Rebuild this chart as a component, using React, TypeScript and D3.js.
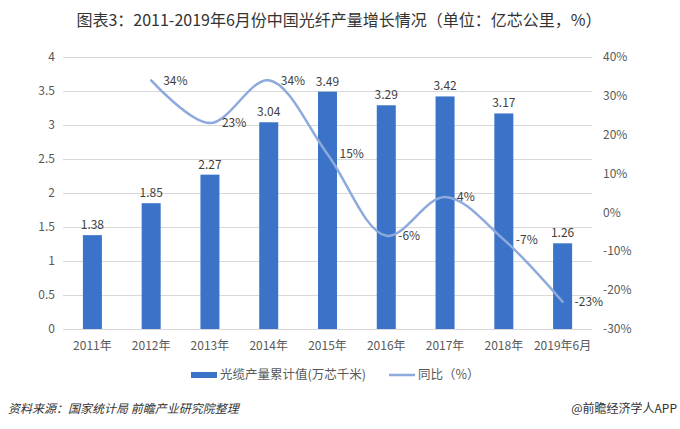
import { useRef, useEffect } from "react";
import * as d3 from "d3";

// data
const years = ["2011年", "2012年", "2013年", "2014年", "2015年", "2016年", "2017年", "2018年", "2019年6月"];
const output = [1.38, 1.85, 2.27, 3.04, 3.49, 3.29, 3.42, 3.17, 1.26];
const growth: (number | null)[] = [null, 34, 23, 34, 15, -6, 4, -7, -23];
const leftTicks = [0, 0.5, 1, 1.5, 2, 2.5, 3, 3.5, 4];
const rightTicks = [-30, -20, -10, 0, 10, 20, 30, 40];

const W = 680;
const H = 429;
const font = "'Noto Sans CJK SC', 'Noto Sans', sans-serif";

function draw(el: SVGSVGElement) {
  const svg = d3.select(el);
  svg.selectAll("*").remove();

  const left = 63;
  const right = 592;
  const top = 57;
  const bottom = 329;

  const x = d3.scaleBand().domain(years).range([left, right]);
  const y = d3.scaleLinear().domain([0, 4]).range([bottom, top]);
  const y2 = d3.scaleLinear().domain([-30, 40]).range([bottom, top]);

  svg.append("rect").attr("width", W).attr("height", H).attr("fill", "#fff");

  // title
  svg
    .append("text")
    .attr("x", 339)
    .attr("y", 26)
    .attr("text-anchor", "middle")
    .attr("font-size", 16)
    .attr("fill", "#333")
    .text("图表3：2011-2019年6月份中国光纤产量增长情况（单位：亿芯公里，%）");

  // grid
  svg
    .append("g")
    .selectAll("line")
    .data(leftTicks)
    .join("line")
    .attr("x1", left)
    .attr("x2", right)
    .attr("y1", (d) => Math.round(y(d)) + 0.5)
    .attr("y2", (d) => Math.round(y(d)) + 0.5)
    .attr("stroke", "#d9d9d9")
    .attr("stroke-width", 1);

  // left axis labels
  svg
    .append("g")
    .selectAll("text")
    .data(leftTicks)
    .join("text")
    .attr("x", 55)
    .attr("y", (d) => y(d))
    .attr("dy", "0.35em")
    .attr("text-anchor", "end")
    .attr("font-size", 12)
    .attr("fill", "#595959")
    .text((d) => String(d));

  // right axis labels
  svg
    .append("g")
    .selectAll("text")
    .data(rightTicks)
    .join("text")
    .attr("x", 603)
    .attr("y", (d) => y2(d))
    .attr("dy", "0.35em")
    .attr("font-size", 12)
    .attr("fill", "#595959")
    .text((d) => d + "%");

  // category labels
  svg
    .append("g")
    .selectAll("text")
    .data(years)
    .join("text")
    .attr("x", (d) => x(d)! + x.bandwidth() / 2)
    .attr("y", 350)
    .attr("text-anchor", "middle")
    .attr("font-size", 12)
    .attr("fill", "#595959")
    .text((d) => d);

  // bars
  const bw = 19;
  svg
    .append("g")
    .selectAll("rect")
    .data(output)
    .join("rect")
    .attr("x", (d, i) => x(years[i])! + x.bandwidth() / 2 - bw / 2)
    .attr("y", (d) => y(d))
    .attr("width", bw)
    .attr("height", (d) => bottom - y(d))
    .attr("fill", "#3a73c8");

  svg
    .append("g")
    .selectAll("text")
    .data(output)
    .join("text")
    .attr("x", (d, i) => x(years[i])! + x.bandwidth() / 2)
    .attr("y", (d) => y(d) - 6)
    .attr("text-anchor", "middle")
    .attr("font-size", 12)
    .attr("fill", "#404040")
    .text((d) => d.toFixed(2));

  // line
  const pts = growth
    .map((g, i) => ({ g, i }))
    .filter((p) => p.g !== null) as { g: number; i: number }[];
  const line = d3
    .line<{ g: number; i: number }>()
    .x((p) => x(years[p.i])! + x.bandwidth() / 2)
    .y((p) => y2(p.g))
    .curve(d3.curveCatmullRom.alpha(0.5));
  svg
    .append("path")
    .datum(pts)
    .attr("d", line)
    .attr("fill", "none")
    .attr("stroke", "#8eaadc")
    .attr("stroke-width", 2.5)
    .attr("stroke-linecap", "round");

  svg
    .append("g")
    .selectAll("text")
    .data(pts)
    .join("text")
    .attr("x", (p) => x(years[p.i])! + x.bandwidth() / 2 + 12)
    .attr("y", (p) => y2(p.g))
    .attr("dy", "0.35em")
    .attr("font-size", 12)
    .attr("fill", "#404040")
    .text((p) => p.g + "%");

  // legend
  const lg = svg.append("g").attr("font-size", 12.5).attr("fill", "#595959");
  lg.append("rect").attr("x", 191).attr("y", 372).attr("width", 26).attr("height", 6).attr("fill", "#3a73c8");
  lg.append("text").attr("x", 220).attr("y", 375).attr("dy", "0.35em").text("光缆产量累计值(万芯千米)");
  lg.append("line")
    .attr("x1", 389)
    .attr("x2", 415)
    .attr("y1", 375)
    .attr("y2", 375)
    .attr("stroke", "#8eaadc")
    .attr("stroke-width", 2.5);
  lg.append("text").attr("x", 418).attr("y", 375).attr("dy", "0.35em").text("同比（%）");

  // footer
  svg
    .append("text")
    .attr("x", 8)
    .attr("y", 413)
    .attr("font-size", 12)
    .attr("font-style", "italic")
    .attr("fill", "#333")
    .text("资料来源：国家统计局 前瞻产业研究院整理");
  svg
    .append("text")
    .attr("x", 677)
    .attr("y", 413)
    .attr("text-anchor", "end")
    .attr("font-size", 12)
    .attr("fill", "#333")
    .text("@前瞻经济学人APP");
}

export default function App() {
  const ref = useRef<SVGSVGElement>(null);
  useEffect(() => {
    if (ref.current) draw(ref.current);
  }, []);
  return (
    <svg
      ref={ref}
      width={W}
      height={H}
      style={{ display: "block", position: "absolute", left: 0, top: 0, fontFamily: font }}
    />
  );
}
